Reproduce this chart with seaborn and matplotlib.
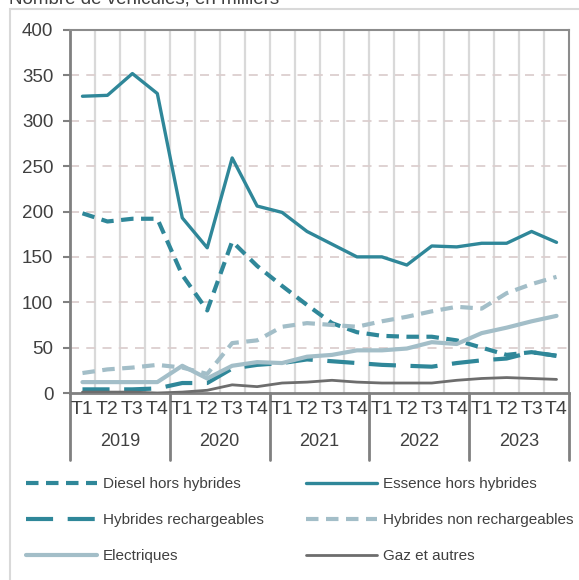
import matplotlib
matplotlib.use("Agg")
import matplotlib.pyplot as plt
import matplotlib.font_manager as fm
from matplotlib.patches import Rectangle
from matplotlib.lines import Line2D
import seaborn as sns
import numpy as np
import pandas as pd

years = ["2019", "2020", "2021", "2022", "2023"]
quarters = ["T1", "T2", "T3", "T4"]

diesel = [198, 189, 192, 192, 130, 91, 167, 140, 118, 97, 77, 67, 63, 62, 62, 58, 50, 42, 45, 41]
essence = [327, 328, 352, 330, 193, 160, 259, 206, 199, 178, 164, 150, 150, 141, 162, 161, 165, 165, 178, 166]
phev = [4, 4, 4, 5, 11, 11, 27, 31, 33, 37, 35, 33, 31, 30, 29, 33, 36, 38, 45, 41]
hev = [22, 26, 28, 31, 28, 21, 55, 58, 73, 77, 75, 73, 79, 84, 90, 95, 93, 110, 120, 128]
electriques = [12, 12, 12, 12, 30, 16, 30, 34, 33, 40, 42, 47, 47, 49, 56, 54, 66, 72, 79, 85]
gaz = [1, 1, 1, 0, 1, 3, 9, 7, 11, 12, 14, 12, 11, 11, 11, 14, 16, 17, 16, 15]

series_names = ["Diesel hors hybrides", "Essence hors hybrides", "Hybrides rechargeables",
                "Hybrides non rechargeables", "Electriques", "Gaz et autres"]

TEAL = "#2f8799"
LIGHT = "#a3bec8"
GREY = "#6d6d6d"

styles = {
    "Diesel hors hybrides": dict(color=TEAL, lw=3.0, ls=(0, (3.0, 1.8))),
    "Essence hors hybrides": dict(color=TEAL, lw=2.4, ls="-"),
    "Hybrides rechargeables": dict(color=TEAL, lw=3.0, ls=(0, (6.5, 3.5))),
    "Hybrides non rechargeables": dict(color=LIGHT, lw=3.0, ls=(0, (3.0, 1.8))),
    "Electriques": dict(color=LIGHT, lw=3.0, ls="-"),
    "Gaz et autres": dict(color=GREY, lw=2.0, ls="-"),
}

values = [diesel, essence, phev, hev, electriques, gaz]
n = len(years) * len(quarters)
rows = []
for name, vals in zip(series_names, values):
    for i, v in enumerate(vals):
        rows.append({"pos": i, "val": v, "serie": name})
df = pd.DataFrame(rows)

sns.set_theme(style="white")
avail = {f.name for f in fm.fontManager.ttflist}
base_font = "Liberation Sans" if "Liberation Sans" in avail else "DejaVu Sans"
plt.rcParams["font.family"] = [base_font, "DejaVu Sans"]

TXT = "#404040"
fig = plt.figure(figsize=(5.79, 5.80), dpi=100)
W, H = 579, 580
ax = fig.add_axes([70 / W, 1 - 393 / H, (569 - 70) / W, (393 - 30) / H])

# outer frame
fig.patches.append(Rectangle((9.5 / W, -0.05), 1.2, 1 - 9 / H + 0.05, transform=fig.transFigure,
                             fill=False, edgecolor="#d9d9d9", lw=1.5, zorder=0))
fig.text(9 / W, 1 - 4 / H, "Nombre de véhicules, en milliers", fontsize=13.5, color=TXT,
         va="baseline", ha="left")

# grid
for k in range(1, n):
    ax.axvline(k - 0.5, color="#d9d9d9", lw=1.6, zorder=0)
for yv in range(50, 401, 50):
    ax.axhline(yv, color="#dccfcf", lw=1.3, ls=(0, (5, 4)), zorder=0)

handles = {}
for name in series_names:
    st = styles[name]
    sub = df[df["serie"] == name]
    sns.lineplot(data=sub, x="pos", y="val", ax=ax, color=st["color"], linewidth=st["lw"],
                 linestyle=st["ls"], zorder=3, legend=False)
    handles[name] = Line2D([], [], color=st["color"], lw=st["lw"], ls=st["ls"])

ax.set_xlim(-0.5, n - 0.5)
ax.set_ylim(0, 400)
ax.set_yticks(range(0, 401, 50))
ax.set_yticklabels([str(v) for v in range(0, 401, 50)], fontsize=13.5, color=TXT)
ax.tick_params(axis="y", length=5, width=1.5, color="#808080", pad=7, left=True)
ax.set_xticks([])
ax.set_xlabel("")
ax.set_ylabel("")
for sp in ["left", "bottom"]:
    ax.spines[sp].set_color("#808080")
    ax.spines[sp].set_linewidth(2)
for sp in ["top", "right"]:
    ax.spines[sp].set_color("#8c8c8c")
    ax.spines[sp].set_linewidth(1.5)

trans = ax.get_xaxis_transform()
px = 1 / (393 - 30)
for i in range(n):
    ax.text(i, -17 * px, quarters[i % 4], transform=trans, ha="center", va="center",
            fontsize=14, color=TXT)
for j, yr in enumerate(years):
    ax.text(j * 4 + 1.5, -49 * px, yr, transform=trans, ha="center", va="center",
            fontsize=13, color=TXT)
for j in range(len(years) + 1):
    ax.plot([j * 4 - 0.5, j * 4 - 0.5], [0, -67 * px], transform=trans, color="#808080",
            lw=2, clip_on=False)

cols = [["Diesel hors hybrides", "Hybrides rechargeables", "Electriques"],
        ["Essence hors hybrides", "Hybrides non rechargeables", "Gaz et autres"]]
for xpix, col in zip([26, 306], cols):
    leg = fig.legend([handles[o] for o in col], col, ncol=1, loc="upper left",
                     bbox_to_anchor=(xpix / W, 1 - 477 / H), frameon=False,
                     prop={"size": 11}, handlelength=4.65,
                     handletextpad=0.4, labelspacing=1.45,
                     borderaxespad=0, borderpad=0)
    for t in leg.get_texts():
        t.set_color(TXT)

fig.savefig("out.png", dpi=100)
